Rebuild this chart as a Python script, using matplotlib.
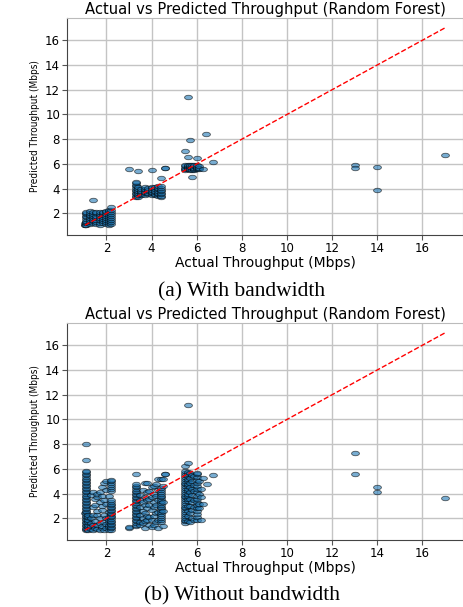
import matplotlib.pyplot as plt
from matplotlib.path import Path
from matplotlib.transforms import Affine2D
import numpy as np

# ---- (a) with bandwidth: actual value -> list of predicted values ----
a_actual = [1.05, 1.1, 1.25, 1.4, 1.55, 1.7, 1.85, 2.0, 2.1, 2.2,
            3.0, 3.3, 3.4, 3.55, 3.7, 3.85, 4.0, 4.15, 4.3, 4.4, 4.6,
            5.5, 5.6, 5.7, 5.8, 5.9, 6.0, 6.1, 6.3, 6.4, 6.7,
            13.0, 14.0, 17.0]
a_pred = [
    [1.05, 1.1, 1.2],
    [1.1, 1.2, 1.3, 1.42, 1.55, 1.68, 1.8, 1.92, 2.05, 2.15],
    [1.15, 1.3, 1.45, 1.6, 1.75, 1.9, 2.05, 2.18],
    [1.2, 1.35, 1.5, 1.62, 1.8, 1.95, 2.1, 3.05],
    [1.15, 1.3, 1.48, 1.65, 1.82, 2.0, 2.12],
    [1.1, 1.25, 1.43, 1.6, 1.78, 1.95, 2.1],
    [1.2, 1.35, 1.52, 1.7, 1.88, 2.02, 2.15],
    [1.15, 1.3, 1.45, 1.62, 1.8, 1.95, 2.1, 2.2],
    [1.1, 1.25, 1.4, 1.55, 1.72, 1.9, 2.05, 2.2, 2.3],
    [1.15, 1.3, 1.48, 1.65, 1.82, 1.98, 2.12, 2.25, 2.5],
    [5.55],
    [3.3, 3.42, 3.55, 3.68, 3.8, 3.92, 4.05, 4.18, 4.3, 4.42, 4.5],
    [3.35, 3.5, 3.65, 3.8, 3.95, 4.1, 5.4],
    [3.45, 3.6, 3.72, 3.85, 3.98],
    [3.5, 3.62, 3.75, 3.88, 4.0, 4.1],
    [3.55, 3.68, 3.8, 3.92, 4.05],
    [3.5, 3.62, 3.75, 3.9, 4.02, 4.15, 5.52],
    [3.45, 3.6, 3.72, 3.85, 4.0, 4.12],
    [3.4, 3.55, 3.68, 3.82, 3.95, 4.08, 4.2],
    [3.3, 3.42, 3.55, 3.68, 3.8, 3.92, 4.05, 4.2, 4.85],
    [5.68, 5.7],
    [5.5, 5.6, 5.7, 5.8, 5.9, 7.08],
    [5.55, 5.65, 5.75, 5.85, 5.95, 6.54, 11.4],
    [5.5, 5.62, 5.72, 5.82, 5.92, 7.9],
    [5.52, 5.64, 5.76, 5.88, 4.93],
    [5.5, 5.6, 5.7, 5.8, 5.9],
    [5.55, 5.65, 5.78, 5.9, 6.46],
    [5.58, 5.7, 5.82],
    [5.6],
    [8.4],
    [6.19],
    [5.95, 5.68],
    [5.75, 3.9],
    [6.7],
]

# ---- (b) without bandwidth ----
b_actual = [1.05, 1.1, 1.2, 1.3, 1.4, 1.5, 1.6, 1.7, 1.8, 1.9, 2.0, 2.1, 2.2,
            3.0, 3.3, 3.5, 3.6, 3.7, 3.8, 3.9, 4.0, 4.1, 4.2, 4.3, 4.4, 4.5, 4.6,
            5.5, 5.6, 5.7, 5.8, 5.9, 6.0, 6.1, 6.2, 6.3, 6.45, 6.7,
            13.0, 14.0, 17.0]
b_pred = [
    [2.45],
    [1.05, 1.15, 1.25, 1.35, 1.48, 1.6, 1.72, 1.85, 1.98, 2.1, 2.22, 2.35,
     2.48, 2.6, 2.72, 2.85, 2.98, 3.1, 3.22, 3.35, 3.48, 3.6, 3.72, 3.85,
     3.98, 4.1, 4.22, 4.35, 4.48, 4.6, 4.72, 4.85, 4.98, 5.1, 5.22, 5.35,
     5.48, 5.6, 5.72, 5.82, 6.75, 8.05],
    [1.1, 1.3, 1.5, 1.7, 1.9, 2.1, 2.3],
    [1.15, 1.35, 1.6, 2.0, 3.9],
    [1.1, 1.5, 2.27, 2.9, 4.14],
    [1.25, 1.8, 3.07, 3.55],
    [1.15, 1.45, 2.27, 2.6, 3.74, 4.0],
    [1.1, 1.6, 2.0, 3.34, 4.14],
    [1.2, 1.4, 2.67, 3.0, 3.8, 4.54],
    [1.1, 1.7, 2.3, 3.5, 4.87],
    [1.25, 1.55, 2.05, 3.15, 4.3, 5.0],
    [1.1, 1.3, 1.5, 1.7, 1.9, 2.1, 2.5, 3.85],
    [1.1, 1.2, 1.32, 1.45, 1.58, 1.7, 1.82, 1.95, 2.08, 2.2, 2.32, 2.45,
     2.58, 2.7, 2.82, 2.95, 3.08, 3.2, 3.32, 3.45, 4.25, 4.4, 4.55, 4.7,
     4.85, 5.0, 5.12],
    [1.2, 1.32],
    [1.35, 1.5, 1.62, 1.75, 1.88, 2.0, 2.12, 2.25, 2.38, 2.5, 2.62, 2.75,
     2.88, 3.0, 3.12, 3.25, 3.38, 3.5, 3.62, 3.75, 3.88, 4.0, 4.12, 4.25,
     4.38, 4.5, 4.62, 4.75, 5.62],
    [1.45, 1.7, 2.27, 2.9, 3.47, 3.9],
    [1.6, 2.0, 2.6, 3.3, 4.28],
    [1.25, 1.8, 2.4, 3.1, 3.7, 4.9],
    [1.86, 2.2, 2.8, 3.47, 4.1, 4.9],
    [1.5, 2.1, 3.07, 3.6, 4.2],
    [1.3, 1.9, 2.67, 3.74, 4.5],
    [1.46, 2.2, 2.9, 3.3, 4.0, 4.6],
    [1.7, 2.4, 3.1, 3.85, 4.82],
    [1.2, 1.9, 2.5, 3.5, 4.3, 5.2],
    [1.73, 1.9, 2.05, 2.2, 2.35, 2.5, 2.65, 2.8, 2.95, 3.1, 3.25, 3.4,
     3.55, 3.7, 3.85, 4.0, 4.15, 4.3, 4.44, 5.22],
    [1.35, 2.6, 3.3, 4.6, 5.2],
    [5.62, 5.6],
    [1.6, 1.75, 1.9, 2.05, 2.2, 2.35, 2.5, 2.65, 2.8, 2.95, 3.1, 3.25, 3.4,
     3.55, 3.7, 3.85, 4.0, 4.15, 4.3, 4.45, 4.6, 4.75, 4.9, 5.05, 5.2, 5.35,
     5.5, 5.65, 5.8, 6.2],
    [1.8, 2.2, 2.6, 3.0, 3.4, 3.6, 3.8, 4.0, 4.2, 4.4, 4.6, 4.8, 5.0, 5.2,
     5.4, 5.6, 5.75, 6.47, 11.17],
    [1.73, 2.4, 3.0, 3.6, 4.1, 4.5, 4.9, 5.3, 5.7],
    [2.0, 2.7, 3.3, 3.9, 4.4, 5.0, 5.5],
    [1.9, 2.9, 3.5, 4.2, 4.7, 5.4],
    [1.85, 2.1, 2.35, 2.6, 2.85, 3.1, 3.35, 3.6, 3.85, 4.1, 4.35, 4.6,
     4.85, 5.1, 5.35, 5.6, 5.7],
    [2.8, 3.2, 4.0, 5.0],
    [1.86, 3.74, 4.4],
    [5.27, 3.2],
    [4.82],
    [5.54],
    [7.31, 5.62],
    [4.54, 4.14],
    [3.61],
]

title = "Actual vs Predicted Throughput (Random Forest)"
captions = ["(a) With bandwidth", "(b) Without bandwidth"]

# the source figure was stretched sideways, so markers look like flat ellipses
ellipse = Path.unit_circle().transformed(Affine2D().scale(1.0, 0.57))

fig = plt.figure(figsize=(4.63, 6.07), dpi=100)
W, H = 463, 607
ax_a = fig.add_axes([67 / W, 372 / H, 396 / W, 217 / H])
ax_b = fig.add_axes([67 / W, 67 / H, 396 / W, 217 / H])


def draw_panel(ax, actual, pred):
    xs = np.concatenate([[a] * len(p) for a, p in zip(actual, pred)])
    ys = np.concatenate(pred)
    ax.scatter(xs, ys, s=32, marker=ellipse, color='#1f77b4', alpha=0.6,
               edgecolors='k', linewidths=0.6, zorder=3)
    lo, hi = min(actual), max(actual)
    ax.plot([lo, hi], [lo, hi], 'r--', lw=1.0, zorder=4)
    ax.set_title(title, fontsize=10.6, pad=3)
    ax.set_xlabel("Actual Throughput (Mbps)", fontsize=10.0, labelpad=0.5)
    ax.set_ylabel("Predicted Throughput (Mbps)", fontsize=7.2,
                  fontstretch='condensed', labelpad=4)
    ax.grid(True, color='#c4c4c4', lw=1.0, zorder=0)
    ax.set_axisbelow(True)
    ax.tick_params(labelsize=8.5, length=3.5, width=0.8, color='#555555', pad=1.5)
    ax.spines['left'].set_color('#444444')
    ax.spines['bottom'].set_color('#444444')
    ax.spines['top'].set_color('#bbbbbb')
    ax.spines['right'].set_color('#bbbbbb')


draw_panel(ax_a, a_actual, a_pred)
draw_panel(ax_b, b_actual, b_pred)

fig.text(242 / W, 1 - 292 / H, captions[0], ha='center', va='center',
         fontsize=15.5, family='Liberation Serif')
fig.text(242 / W, 1 - 596 / H, captions[1], ha='center', va='center',
         fontsize=15.5, family='Liberation Serif')

fig.savefig('out.png', dpi=100)
